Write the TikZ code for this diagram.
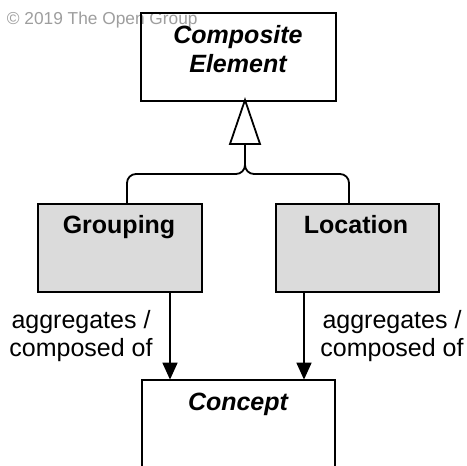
\documentclass[tikz,border=0pt]{standalone}
\usepackage{fontspec}
\setmainfont{Liberation Sans}
\usetikzlibrary{arrows.meta}
\begin{document}
\begin{tikzpicture}[x=1pt,y=-1pt,
  line width=1.8pt,
  boxframe/.style={draw=black, rectangle, inner sep=0pt},
  grey/.style={boxframe, fill=black!14},
  title/.style={font=\fontsize{25}{29}\selectfont\bfseries, align=center, inner sep=0pt},
  rel/.style={font=\fontsize{25}{28}\selectfont, align=center, inner sep=0pt},
  arr/.style={-{Triangle[length=17pt,width=15pt]}, shorten >=-0.6pt},
]
\useasboundingbox (0,0) rectangle (467,466);
\clip (0,0) rectangle (467,466);
\fill[white] (0,0) rectangle (467,466);

% copyright line, behind the frames
\node[anchor=west, inner sep=0pt, text=black!38, font=\fontsize{17.3}{20}\selectfont]
  (copy) at (6,20) {© 2019 The Open Group};

% abstract parent
\node[boxframe, minimum width=195pt, minimum height=88pt, anchor=north west]
  (comp) at (140,12) {};
\node[title, anchor=base] (comptxt1) at (238,43) {\itshape Composite};
\node[title, anchor=base] (comptxt2) at (238,72) {\itshape Element};

% the two specialisations
\node[grey, minimum width=164pt, minimum height=88pt, anchor=north west] (grp) at (37,203) {};
\node[title, anchor=base] (grptxt) at (119,233) {Grouping};
\node[grey, minimum width=163pt, minimum height=88pt, anchor=north west] (loc) at (275,203) {};
\node[title, anchor=base] (loctxt) at (356,233) {Location};

% the aggregated concept, running past the bottom edge
\node[boxframe, fill=white, minimum width=193pt, minimum height=120pt, anchor=north west]
  (con) at (141,379) {};
\node[title, anchor=base] (contxt) at (238,410) {\itshape Concept};

% generalisation: hollow triangle and forked stem
\coordinate (apex) at (245,100);
\coordinate (tribase) at (245,144);
\draw[fill=white, line join=miter] (apex) -- (230,144) -- (260,144) -- cycle;
\draw[rounded corners=9pt] (tribase) |- (127,174) -- (grp.north -| 127,0);
\draw[rounded corners=9pt] (tribase) |- (349,174) -- (loc.north -| 349,0);

% aggregation / composition relations
\draw[arr] (grp.south -| 170,0) -- (con.north -| 170,0);
\draw[arr] (loc.south -| 304,0) -- (con.north -| 304,0);
\node[rel] (lblL) at (81,336) {aggregates /\\composed of};
\node[rel] (lblR) at (392,336) {aggregates /\\composed of};
\end{tikzpicture}
\end{document}
